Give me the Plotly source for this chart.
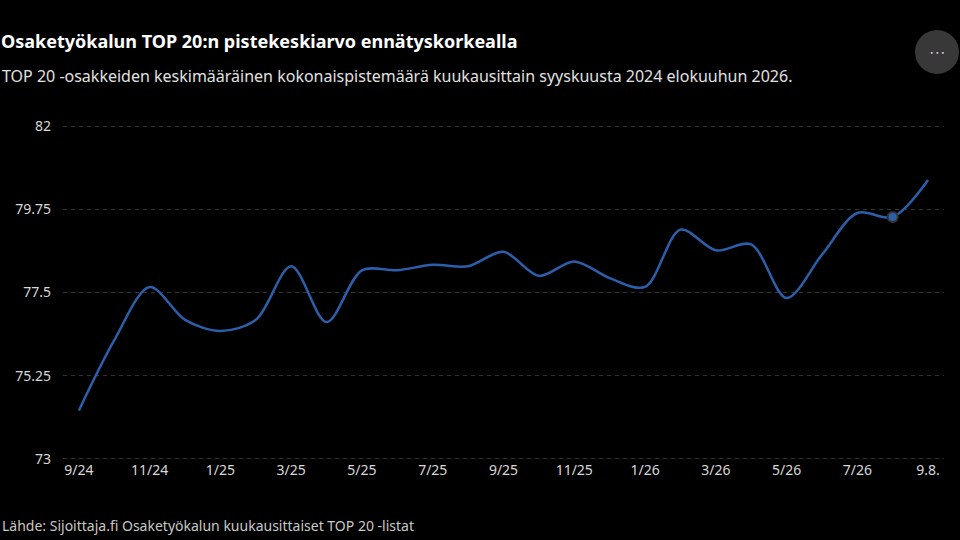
import plotly.graph_objects as go

# kuukaudet 9/24 ... 8/26 + viimeisin havainto 9.8.
months = ["9/24", "10/24", "11/24", "12/24", "1/25", "2/25", "3/25", "4/25",
          "5/25", "6/25", "7/25", "8/25", "9/25", "10/25", "11/25", "12/25",
          "1/26", "2/26", "3/26", "4/26", "5/26", "6/26", "7/26", "8/26", "9.8."]
scores = [74.31, 76.21, 77.65, 76.76, 76.46, 76.76, 78.21, 76.70,
          78.10, 78.10, 78.25, 78.21, 78.60, 77.95, 78.34, 77.89,
          77.65, 79.20, 78.64, 78.80, 77.35, 78.52, 79.65, 79.54, 80.54]
tick_labels = ["9/24", "11/24", "1/25", "3/25", "5/25", "7/25", "9/25",
               "11/25", "1/26", "3/26", "5/26", "7/26", "9.8."]
y_ticks = [73, 75.25, 77.5, 79.75, 82]
highlight = "8/26"

FONT = "Noto Sans"
BLUE = "#2c5fab"

fig = go.Figure()
fig.add_trace(go.Scatter(
    x=months, y=scores, mode="lines",
    line=dict(color=BLUE, width=2.5, shape="spline", smoothing=0.9),
    hoverinfo="skip"))
hi = months.index(highlight)
fig.add_trace(go.Scatter(
    x=[months[hi]], y=[scores[hi]], mode="markers",
    marker=dict(color=BLUE, size=10, line=dict(color="#333333", width=2)),
    hoverinfo="skip"))

fig.update_layout(
    width=960, height=540,
    paper_bgcolor="black", plot_bgcolor="black",
    showlegend=False,
    margin=dict(l=63, r=16, t=125, b=80),
    font=dict(family=FONT, color="#d0d0d0", size=14),
    xaxis=dict(type="category", range=[-0.45, 24.45],
               tickmode="array", tickvals=tick_labels, ticktext=tick_labels,
               showgrid=False, zeroline=False, showline=False,
               ticks="", tickfont=dict(size=14, color="#d8d8d8")),
    yaxis=dict(range=[72.97, 82.03], tickvals=y_ticks,
               ticktext=["73", "75.25", "77.5", "79.75", "82"],
               showgrid=True, gridcolor="#333333", griddash="4px,4px", gridwidth=1,
               zeroline=False, showline=False, ticks="",
               ticklabelstandoff=11,
               tickfont=dict(size=14, color="#d8d8d8")),
)

fig.add_annotation(text="<b>Osaketyökalun TOP 20:n pistekeskiarvo ennätyskorkealla</b>",
                   xref="paper", yref="paper", x=-64 / 881, y=1 + 84 / 335,
                   xanchor="left", yanchor="middle", showarrow=False,
                   font=dict(family=FONT, size=18, color="white"))
fig.add_annotation(text="TOP 20 -osakkeiden keskimääräinen kokonaispistemäärä kuukausittain syyskuusta 2024 elokuuhun 2026.",
                   xref="paper", yref="paper", x=-63 / 881, y=1 + 49 / 335,
                   xanchor="left", yanchor="middle", showarrow=False,
                   font=dict(family=FONT, size=16, color="#e0e0e0"))
fig.add_annotation(text="Lähde: Sijoittaja.fi Osaketyökalun kuukausittaiset TOP 20 -listat",
                   xref="paper", yref="paper", x=-63 / 881, y=-65 / 335,
                   xanchor="left", yanchor="middle", showarrow=False,
                   font=dict(family=FONT, size=14, color="#c8c8c8"))

# "..." valikkonappi oikeassa yläkulmassa
fig.add_shape(type="circle", xref="paper", yref="paper",
              xsizemode="pixel", ysizemode="pixel",
              xanchor=1 + (937 - 944) / 881, yanchor=1 + (125 - 52) / 335,
              x0=-22, x1=22, y0=-22, y1=22,
              fillcolor="#383838", line=dict(width=0))
fig.add_annotation(text="• • •", xref="paper", yref="paper",
                   x=1 + (937 - 944) / 881, y=1 + (125 - 52) / 335,
                   xanchor="center", yanchor="middle", showarrow=False,
                   font=dict(family="DejaVu Sans", size=6, color="#e8e8e8"))

fig.write_html("out.html", config={"displayModeBar": False},
               post_script="document.body.style.margin='0';")
